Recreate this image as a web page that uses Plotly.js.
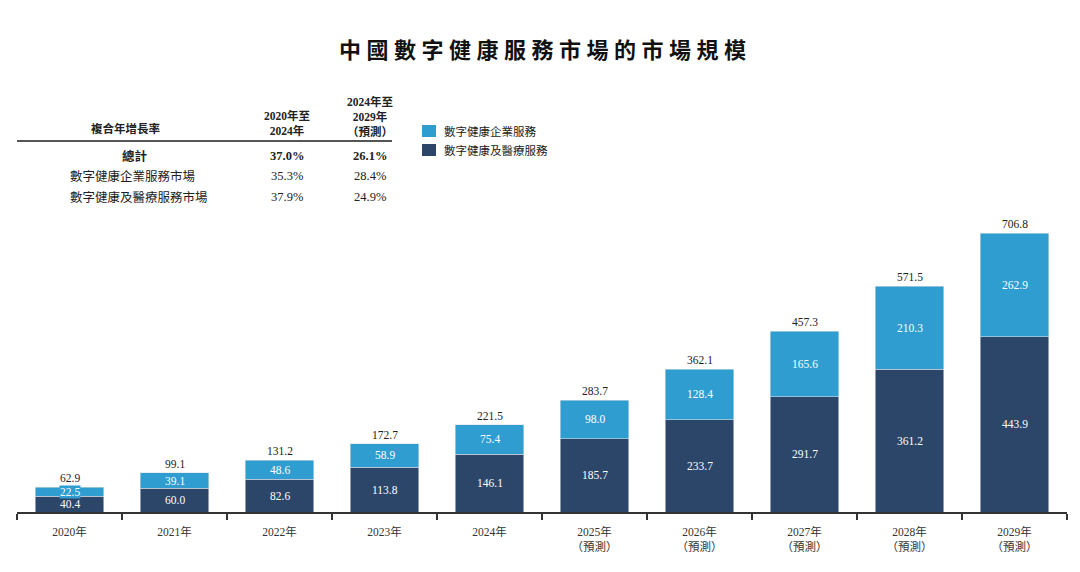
<!DOCTYPE html>
<html>
<head>
<meta charset="utf-8">
<script src="https://cdn.plot.ly/plotly-3.0.1.min.js"></script>
<style>html,body{margin:0;padding:0;background:#fff;}#chart{width:1080px;height:572px;}</style>
</head>
<body>
<div id="chart"></div>
<script>
const years = ["2020年","2021年","2022年","2023年","2024年","2025年<br>（預測）","2026年<br>（預測）","2027年<br>（預測）","2028年<br>（預測）","2029年<br>（預測）"];
const medical = [40.4, 60.0, 82.6, 113.8, 146.1, 185.7, 233.7, 291.7, 361.2, 443.9];
const enterprise = [22.5, 39.1, 48.6, 58.9, 75.4, 98.0, 128.4, 165.6, 210.3, 262.9];
const totals = [62.9, 99.1, 131.2, 172.7, 221.5, 283.7, 362.1, 457.3, 571.5, 706.8];
const seriesNames = ["數字健康企業服務", "數字健康及醫療服務"];
const tableHeader = ["複合年增長率", "2020年至<br>2024年", "2024年至<br>2029年<br>（預測）"];
const tableRows = ["總計", "數字健康企業服務市場", "數字健康及醫療服務市場"];
const cagr2020_2024 = ["37.0%", "35.3%", "37.9%"];
const cagr2024_2029 = ["26.1%", "28.4%", "24.9%"];
const chartTitle = "中國數字健康服務市場的市場規模";

const LIGHT = "#2f9dd0", DARK = "#2b4669";
const FONT = "'Liberation Serif', 'Noto Sans CJK TC', serif";
const W = 1080, H = 572;
const M = {l: 17, r: 13, t: 80, b: 60};
const pw = W - M.l - M.r, ph = H - M.t - M.b;
const px = x => (x - M.l) / pw;
const py = y => (H - M.b - y) / ph;

const ann = [];
function pAnn(x, y, text, size, xanchor) {
  ann.push({x: px(x), y: py(y), xref: 'paper', yref: 'paper', text: text, showarrow: false,
    xanchor: xanchor || 'center', yanchor: 'middle',
    font: {family: FONT, size: size, color: '#222222'}});
}
// segment labels
years.forEach((c, i) => {
  ann.push({x: c, y: medical[i] / 2, xref: 'x', yref: 'y', text: medical[i].toFixed(1), showarrow: false,
    xanchor: 'center', yanchor: 'middle', font: {family: FONT, size: 11.5, color: '#ffffff'}});
  ann.push({x: c, y: medical[i] + enterprise[i] / 2, xref: 'x', yref: 'y', text: enterprise[i].toFixed(1), showarrow: false,
    xanchor: 'center', yanchor: 'middle', bgcolor: LIGHT, borderpad: 0, font: {family: FONT, size: 11.5, color: '#ffffff'}});
  ann.push({x: c, y: totals[i], xref: 'x', yref: 'y', text: totals[i].toFixed(1), showarrow: false,
    xanchor: 'center', yanchor: 'bottom', yshift: 1, font: {family: FONT, size: 11.5, color: '#222222'}});
});
// title
const spaced = chartTitle.split('').join('\u2005');
ann.push({x: px(542), y: py(50), xref: 'paper', yref: 'paper', text: '<b>' + spaced + '</b>', showarrow: false,
  xanchor: 'center', yanchor: 'middle', font: {family: FONT, size: 22, color: '#111111'}});
// table header
pAnn(125, 128, '<b>' + tableHeader[0] + '</b>', 11.5);
pAnn(287, 123, '<b>' + tableHeader[1] + '</b>', 11.5);
pAnn(370, 116, '<b>' + tableHeader[2] + '</b>', 11.5);
// table rows
const rowY = [156, 176, 197];
tableRows.forEach((r, i) => {
  const bold = i === 0;
  const wrap = s => bold ? '<b>' + s + '</b>' : s;
  pAnn(bold ? 135 : 68, rowY[i], wrap(r), 12.5, bold ? 'center' : 'left');
  pAnn(287, rowY[i], wrap(cagr2020_2024[i]), 12.5);
  pAnn(370, rowY[i], wrap(cagr2024_2029[i]), 12.5);
});
// legend text
pAnn(442, 131, seriesNames[0], 11.5, 'left');
pAnn(442, 150, seriesNames[1], 11.5, 'left');

const shapes = [
  {type: 'line', xref: 'paper', yref: 'paper', x0: px(17), x1: px(392), y0: py(141), y1: py(141),
    line: {color: '#555555', width: 2}},
  {type: 'rect', xref: 'paper', yref: 'paper', x0: px(422), x1: px(436), y0: py(137), y1: py(125),
    fillcolor: LIGHT, line: {width: 0}},
  {type: 'rect', xref: 'paper', yref: 'paper', x0: px(422), x1: px(436), y0: py(156), y1: py(144),
    fillcolor: DARK, line: {width: 0}}
];

const yTop = 706.8 * ph / 279;

const data = [
  {type: 'bar', x: years, y: medical, name: seriesNames[1], marker: {color: DARK, line: {color: 'rgba(220,225,230,0.7)', width: 0.8}}, hoverinfo: 'skip'},
  {type: 'bar', x: years, y: enterprise, name: seriesNames[0], marker: {color: LIGHT, line: {color: 'rgba(220,225,230,0.7)', width: 0.8}}, hoverinfo: 'skip'}
];

const layout = {
  width: W, height: H,
  margin: M,
  paper_bgcolor: '#ffffff', plot_bgcolor: '#ffffff',
  barmode: 'stack', bargap: 0.345,
  showlegend: false,
  xaxis: {type: 'category', range: [-0.5, 9.5], showline: true, linecolor: '#333333', linewidth: 1.5,
    ticks: 'outside', tickson: 'boundaries', ticklen: 6, tickcolor: '#333333', tickwidth: 1.2,
    ticklabelstandoff: 9,
    showgrid: false, zeroline: false, fixedrange: true,
    tickfont: {family: FONT, size: 11.5, color: '#333'}},
  yaxis: {range: [0, yTop], visible: false, showgrid: false, zeroline: false, fixedrange: true},
  annotations: ann,
  shapes: shapes
};

Plotly.newPlot('chart', data, layout, {displayModeBar: false, staticPlot: true});
</script>
</body>
</html>
